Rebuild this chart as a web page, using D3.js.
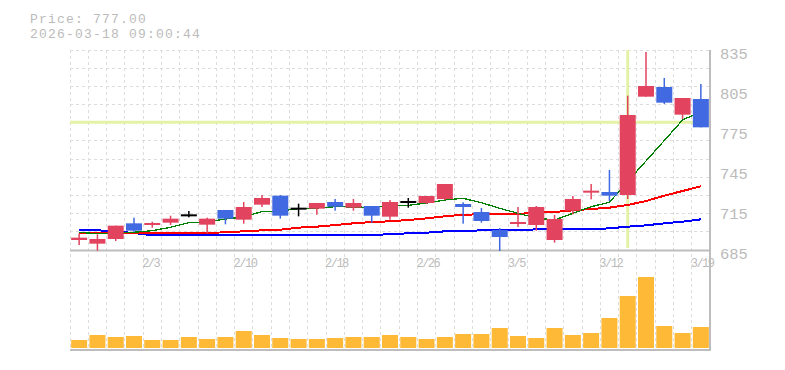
<!DOCTYPE html>
<html><head><meta charset="utf-8">
<script src="https://cdn.jsdelivr.net/npm/d3@7"></script>
<style>body{margin:0;background:#fff}</style>
</head><body><svg id="c" width="785" height="370"></svg>
<script>
const dates = ["1/28","1/29","1/30","2/2","2/3","2/4","2/5","2/6","2/9","2/10","2/12","2/13","2/16","2/17","2/18","2/19","2/20","2/24","2/25","2/26","2/27","3/2","3/3","3/4","3/5","3/6","3/9","3/10","3/11","3/12","3/13","3/16","3/17","3/18","3/19"];
const open  = [692.5,689.75,693.25,705,703.75,705.5,711,704,715,707.75,719,725.75,716,716,721,716.75,718,710,721,720.25,723.25,719.5,713.5,700,704.5,703.75,692.5,714.5,728,728.5,726.25,800,807.25,786.5,798.25];
const high  = [697.25,696.75,703.25,709.25,706.25,710.75,714.25,709.25,715,721,726.25,726.25,719.75,720.25,723.25,723.25,718,722.5,724,725.5,734.5,720.75,716.5,701.5,717.25,718,711.25,725.5,734.5,745,800.75,833.5,814,799,809.5];
const low   = [688.75,684.5,691.75,698.5,701.75,703.75,709.5,697.5,704.25,704.75,717.25,708.5,710.25,711.5,714.5,714.5,705.5,707.75,716.75,719.5,722.5,704.75,705.5,684.25,702.25,699.5,690.5,711.75,723,721.75,723.25,800,794.5,783.25,777];
const close = [694.25,693.25,703.25,699.5,705.25,708.5,711,708.5,708.5,717.25,724,710.75,716,720.25,717.5,720.25,710.75,721,721,725.5,734.5,717.25,706.75,694.75,706,717.25,708.25,723.25,729.5,725.75,786.25,808,795.5,799,777];
const volume = [80,130,110,120,80,80,110,90,110,170,130,100,90,90,100,110,110,130,110,90,110,140,140,200,120,100,200,130,150,300,520,710,220,150,210];
const ma5  = [698.3,697.2,697.5,698.3,699.5,702,705.5,706.2,708.25,709.75,713.9,714.25,716,716.5,717.5,717.25,717,718,718.5,720.25,722.5,723.75,720.5,716.25,712.5,709,707.5,712.5,717.5,720.75,736.5,751.75,767.1,782.5,788.7];
const ma25 = [697.5,697.5,697.5,697.5,697.5,697.5,697.5,697.75,698.3,699,699.75,700.25,701.75,702.5,703.75,705,706,706.5,707.5,708.75,710.25,711.5,711.75,711.75,712,713.1,713.5,714.75,715.75,716.75,718.75,721.75,725.75,729.25,732.75];
const ma75 = [699.8,699.8,698.9,697.75,696,696,696,696,696,696,696,696,696,696,696,696,696,697,697.5,698,699,699,699.8,699.8,699.8,700.5,700.5,700.5,700.5,701.25,702.5,703.5,705,706.25,708];
const priceTicks = [685,715,745,775,805,835];
const dateTicks = ["2/3","2/10","2/18","2/26","3/5","3/12","3/19"];
const headerLines = ["Price: 777.00","2026-03-18 09:00:44"];
const crossDate = "3/13";
const crossPrice = 780.75;

const svg = d3.select("#c");
const L = 70, R = 710, T = 50, B = 250, VB = 348, VT = 270, AX2 = 350;
const x = d3.scaleBand().domain(dates).range([L, R]).padding(0);
const bw = x.bandwidth();
const cx = d => x(d) + bw / 2;
const y = d3.scaleLinear().domain([685, 835]).range([B, T]);
const yv = d3.scaleLinear().domain([0, 780]).range([VB, VT]);
const RED = "#e2435f", BLUE = "#4169e1", GRID = "#dcdcdc", AXC = "#bdbdbd", TXT = "#bbbbbb";
const FONT = "'Liberation Mono', 'DejaVu Sans Mono', monospace";

// grid
const g = svg.append("g").attr("shape-rendering", "crispEdges");
dates.forEach(d => {
  g.append("line").attr("x1", x(d)).attr("x2", x(d)).attr("y1", T).attr("y2", AX2)
    .attr("stroke", GRID).attr("stroke-dasharray", "3,3");
});
const rows = 11;
for (let j = 0; j < rows; j++) {
  const yy = T + j * (B - T) / rows;
  g.append("line").attr("x1", L).attr("x2", R).attr("y1", yy).attr("y2", yy)
    .attr("stroke", GRID).attr("stroke-dasharray", "3,3");
}

// crosshair
svg.append("line").attr("x1", L).attr("x2", R).attr("y1", y(crossPrice)).attr("y2", y(crossPrice))
  .attr("stroke", "#e3f2a6").attr("stroke-width", 3);
svg.append("line").attr("x1", cx(crossDate)).attr("x2", cx(crossDate)).attr("y1", T).attr("y2", B - 2)
  .attr("stroke", "#e3f2a6").attr("stroke-width", 3);

// axes lines
svg.append("line").attr("x1", L).attr("x2", R).attr("y1", B + 0.5).attr("y2", B + 0.5).attr("stroke", AXC).attr("stroke-width", 2);
svg.append("line").attr("x1", L).attr("x2", R + 1).attr("y1", AX2).attr("y2", AX2).attr("stroke", AXC).attr("stroke-width", 2);
svg.append("line").attr("x1", R).attr("x2", R).attr("y1", T).attr("y2", AX2 + 1).attr("stroke", AXC).attr("stroke-width", 2);

// MA lines
const lineGen = arr => d3.line().x((d, i) => cx(dates[i])).y(d => y(d))(arr);
[[ma75, "#0000ff", 2], [ma25, "#ff0000", 2], [ma5, "#008000", 1.3]].forEach(([arr, col, w]) => {
  svg.append("path").attr("d", lineGen(arr)).attr("fill", "none").attr("stroke", col)
    .attr("stroke-width", w).attr("shape-rendering", "crispEdges");
});

// candles
const cw = 16;
const cg = svg.append("g");
dates.forEach((d, i) => {
  const o = open[i], c = close[i];
  const col = c > o ? RED : (c < o ? BLUE : "#000");
  const xc = cx(d);
  cg.append("rect").attr("x", xc - 0.75).attr("width", 1.5)
    .attr("y", y(high[i])).attr("height", Math.max(1, y(low[i]) - y(high[i]))).attr("fill", col);
  const top = y(Math.max(o, c)), bot = y(Math.min(o, c));
  const h = Math.max(2, bot - top);
  cg.append("rect").attr("x", xc - cw / 2).attr("width", cw)
    .attr("y", bot - top < 2 ? (top + bot) / 2 - 1 : top).attr("height", h).attr("fill", col);
});

// volume
svg.append("g").selectAll("rect").data(volume).join("rect")
  .attr("x", (v, i) => cx(dates[i]) - 8).attr("width", 16)
  .attr("y", v => yv(v)).attr("height", v => VB - yv(v)).attr("fill", "#feb936");

// price axis
const pa = svg.append("g").attr("transform", `translate(${R},0)`)
  .call(d3.axisRight(y).tickValues(priceTicks).tickSize(0).tickPadding(10).tickFormat(d3.format("d")));
pa.select(".domain").remove();
pa.selectAll("text").attr("dy", "8.3px").attr("fill", TXT).attr("font-family", FONT).attr("font-size", "15.5px");

// date axis
const da = svg.append("g").attr("transform", `translate(0,${B})`)
  .call(d3.axisBottom(x).tickValues(dateTicks).tickSize(0).tickPadding(0));
da.select(".domain").remove();
da.selectAll("text").attr("text-anchor", "start").attr("x", -bw / 2 - 1).attr("y", 0).attr("dy", "16.7px")
  .attr("fill", TXT).attr("font-family", FONT).attr("font-size", "12px").attr("letter-spacing", "-1.5px");

// header
svg.selectAll("text.hdr").data(headerLines).join("text").attr("class", "hdr")
  .attr("x", 30).attr("y", (d, i) => 22.7 + i * 15).text(d => d)
  .attr("fill", TXT).attr("font-family", FONT).attr("font-size", "13px").attr("letter-spacing", "1.2px");
</script></body></html>
